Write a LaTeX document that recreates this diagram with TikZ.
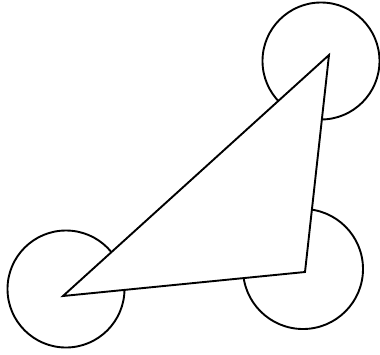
\documentclass[tikz,border=0pt]{standalone}
\begin{document}
\begin{tikzpicture}[x=1pt,y=-1pt,
  stroke/.style={line width=1.9pt,draw=black,line join=miter}]
\useasboundingbox (0,0) rectangle (380,354);
\coordinate (A) at (63,296);
\coordinate (B) at (329,55);
\coordinate (C) at (305,272);
\coordinate (cA) at (66,289);
\coordinate (cB) at (321,61);
\coordinate (cC) at (303,269);
\begin{scope}[even odd rule]
  \clip (-10,-10) rectangle (390,364) (A) -- (B) -- (C) -- cycle;
  \draw[stroke] (cA) circle[radius=58.5];
  \draw[stroke] (cB) circle[radius=58.5];
  \draw[stroke] (cC) circle[radius=60];
\end{scope}
\draw[stroke] (A) -- (B) -- (C) -- cycle;
\end{tikzpicture}
\end{document}
